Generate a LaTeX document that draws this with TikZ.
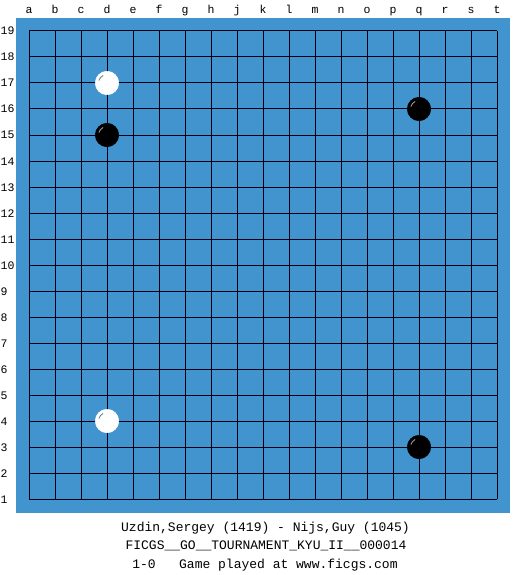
\documentclass[tikz,border=0pt]{standalone}
\usepackage{fontspec}
\newfontfamily\boardmono{Liberation Mono}
\definecolor{boardblue}{RGB}{65,148,206}
\definecolor{gridline}{RGB}{0,0,20}
\tikzset{
  gridln/.style={draw=gridline, line width=1pt},
  blackstone/.style={circle, fill=black, draw=black, line width=0.5pt, minimum size=23.5pt, inner sep=0pt},
  whitestone/.style={circle, fill=white, draw=white, line width=0.5pt, minimum size=23.5pt, inner sep=0pt},
  collabel/.style={font=\boardmono\fontsize{11.5}{11.5}\selectfont, anchor=base, inner sep=0pt},
  rowlabel/.style={font=\boardmono\fontsize{11.5}{11.5}\selectfont, anchor=base west, inner sep=0pt},
  infoline/.style={font=\boardmono\fontsize{13}{13}\selectfont, anchor=base, inner sep=0pt}
}
\begin{document}
\begin{tikzpicture}[x=1pt,y=-1pt]
\useasboundingbox (0,0) rectangle (525,575);
\fill[white] (0,0) rectangle (525,575);
\fill[boardblue] (16,18) rectangle (510,513);
% grid
\foreach \i in {0,...,18}{
  \draw[gridln] ({29+26*\i},31) -- ({29+26*\i},499);
  \draw[gridln] (29,{31+26*\i}) -- (497,{31+26*\i});
}
% column labels
\foreach \l [count=\i from 0] in {a,b,c,d,e,f,g,h,j,k,l,m,n,o,p,q,r,s,t}{
  \node[collabel] (col\l) at ({29+26*\i},14) {\l};
}
% row labels
\foreach \r in {1,...,19}{
  \node[rowlabel] (row\r) at (0.5,{31+26*(19-\r)+4}) {\r};
}
% stones
\node[whitestone] (wd17) at (107,83) {};
\node[blackstone] (bd15) at (107,135) {};
\node[blackstone] (bq16) at (419,109) {};
\node[whitestone] (wd4) at (107,421) {};
\node[blackstone] (bq3) at (419,447) {};
% highlights (upper-left)
\foreach \s in {bd15,bq16,bq3}{
  \draw[gray!80, line width=0.9pt] (\s.center) ++(197:8.5) arc[start angle=197, end angle=243, radius=8.5];
}
\foreach \s in {wd17,wd4}{
  \draw[gray!60!boardblue, line width=0.9pt] (\s.center) ++(197:8.5) arc[start angle=197, end angle=243, radius=8.5];
}
% info
\node[infoline] (line1) at (265.5,531) {Uzdin,Sergey (1419) - Nijs,Guy (1045)};
\node[infoline] (line2) at (266,549) {FICGS\_\_GO\_\_TOURNAMENT\_KYU\_II\_\_000014};
\node[infoline] (line3) at (265,568) {1-0\ \ \ Game played at www.ficgs.com};
\end{tikzpicture}
\end{document}
